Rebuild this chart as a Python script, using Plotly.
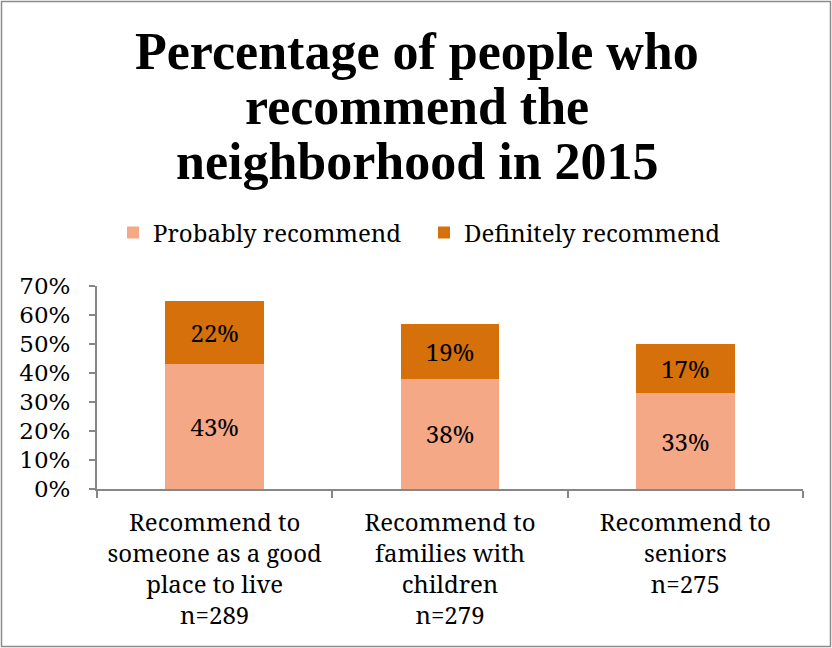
import plotly.graph_objects as go

categories = [
    "Recommend to<br>someone as a good<br>place to live<br>n=289",
    "Recommend to<br>families with<br>children<br>n=279",
    "Recommend to<br>seniors<br>n=275",
]
probably = [43, 38, 33]
definitely = [22, 19, 17]
series_names = ["Probably recommend", "Definitely recommend"]
title_lines = ["Percentage of people who", "recommend the", "neighborhood in 2015"]

BODY = "Noto Serif"
TICK = "DejaVu Serif"
TITLE = "Liberation Serif"
LIGHT = "#F4A886"
DARK = "#D6700A"
AXIS = "#878787"

W, H = 832, 648
L, R, T, B = 97, 29, 286, 159
pw, ph = W - L - R, H - T - B


def px_x(x):
    return (x - L) / pw


def px_y(y):
    return (H - B - y) / ph


fig = go.Figure()
for name, vals, color in [(series_names[0], probably, LIGHT), (series_names[1], definitely, DARK)]:
    fig.add_trace(go.Bar(
        x=categories,
        y=[v / 100 for v in vals],
        name=name,
        marker=dict(color=color, line=dict(width=0)),
        text=[f"{v}%" for v in vals],
        textposition="inside",
        insidetextanchor="middle",
        textfont=dict(family=BODY, size=24, color="black"),
        hoverinfo="skip",
    ))

title_anns = [
    dict(
        text=f"<b>{line}</b>", showarrow=False,
        xref="paper", yref="paper",
        x=px_x(417), y=px_y(c), xanchor="center", yanchor="middle",
        font=dict(family=TITLE, size=52, color="black"),
    )
    for line, c in zip(title_lines, [51, 106, 161])
]

fig.update_layout(
    width=W, height=H,
    barmode="stack",
    bargap=0.58,
    paper_bgcolor="white",
    plot_bgcolor="white",
    margin=dict(l=L, r=R, t=T, b=B, pad=0),
    font=dict(family=BODY, color="black"),
    showlegend=True,
    legend=dict(
        orientation="h",
        x=px_x(113), y=px_y(233), xanchor="left", yanchor="middle",
        font=dict(family=BODY, size=24, color="black"),
        entrywidth=266,
        traceorder="normal",
    ),
    xaxis=dict(
        showline=True, linecolor=AXIS, linewidth=2,
        ticks="outside", tickson="boundaries", ticklen=7, tickcolor=AXIS, tickwidth=2,
        tickfont=dict(family=BODY, size=24, color="black"),
        ticklabelstandoff=11,
        showgrid=False, fixedrange=True,
    ),
    yaxis=dict(
        range=[0, 0.7], dtick=0.1, tickformat=".0%",
        showline=True, linecolor=AXIS, linewidth=2,
        ticks="outside", ticklen=6, tickcolor=AXIS, tickwidth=2,
        tickfont=dict(family=TICK, size=23, color="black"),
        ticklabelstandoff=14,
        showgrid=False, zeroline=False, fixedrange=True,
    ),
    annotations=title_anns,
    shapes=[dict(
        type="rect", xref="paper", yref="paper",
        x0=px_x(1.5), x1=px_x(830.5), y0=px_y(646.5), y1=px_y(1.5),
        line=dict(color="#8C8C8C", width=1.5), fillcolor="rgba(0,0,0,0)",
        layer="below",
    )],
)

fig.write_html("out.html")
